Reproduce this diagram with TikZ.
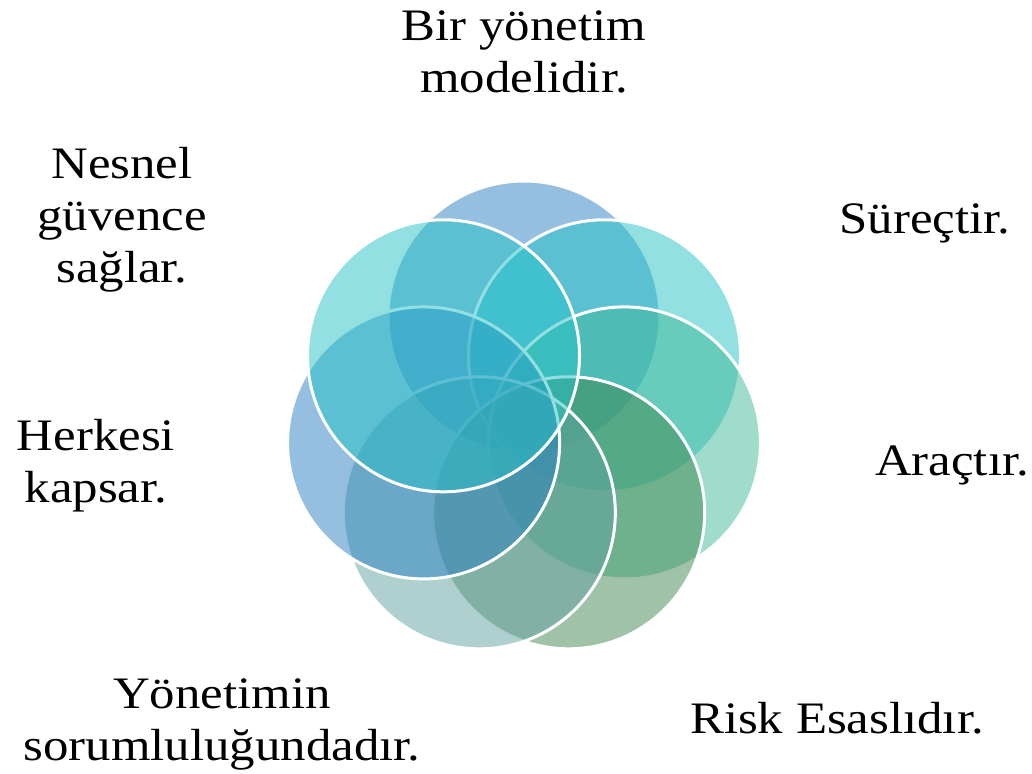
\documentclass[tikz,border=0pt]{standalone}
\usepackage{fontspec}
\setmainfont{Liberation Serif}[FakeStretch=1.13]
\definecolor{cA}{RGB}{41,127,193}
\definecolor{cB}{RGB}{39,193,199}
\definecolor{cC}{RGB}{63,185,151}
\definecolor{cD}{RGB}{65,135,81}
\definecolor{cE}{RGB}{97,161,161}
\tikzset{
  venn/.style={circle, minimum size=272pt, inner sep=0pt, draw=white, line width=3pt, fill opacity=0.5},
  lbl/.style={anchor=base, align=center, inner sep=0pt, font=\fontsize{45}{52}\selectfont}
}
\begin{document}
\begin{tikzpicture}[x=1pt,y=-1pt]
\useasboundingbox (0,0) rectangle (1032,773);
\node[venn, fill=cA] (c1) at (524,317) {};
\node[venn, fill=cB] (c2) at (604.5,355.8) {};
\node[venn, fill=cC] (c3) at (624.4,442.9) {};
\node[venn, fill=cD] (c4) at (568.7,512.8) {};
\node[venn, fill=cE] (c5) at (479.3,512.8) {};
\node[venn, fill=cA] (c6) at (423.6,442.9) {};
\node[venn, fill=cB] (c7) at (443.5,355.8) {};
\node[lbl] (l1) at (524,93) {Bir yönetim\\modelidir.};
\node[lbl] (l2) at (925,233) {Süreçtir.};
\node[lbl] (l3) at (952,475) {Araçtır.};
\node[lbl] (l4) at (837,733) {Risk Esaslıdır.};
\node[lbl] (l5) at (222,760) {Yönetimin\\sorumluluğundadır.};
\node[lbl] (l6) at (96,502) {Herkesi\\kapsar.};
\node[lbl] (l7) at (122,282) {Nesnel\\güvence\\sağlar.};
\end{tikzpicture}
\end{document}
